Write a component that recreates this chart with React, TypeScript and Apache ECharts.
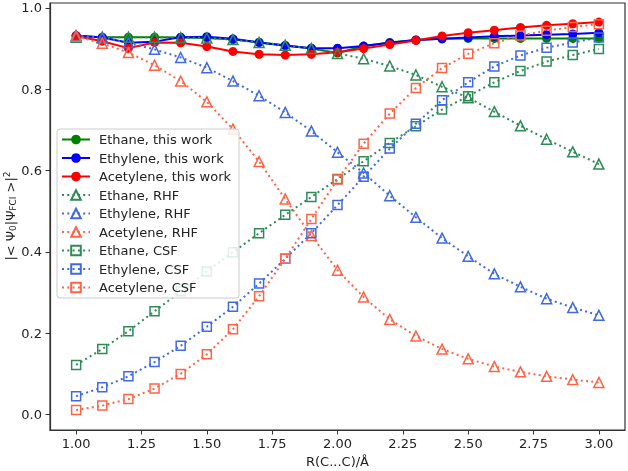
import React, { useEffect, useRef } from "react";
import * as echarts from "echarts";

const R = [1.0, 1.1, 1.2, 1.3, 1.4, 1.5, 1.6, 1.7, 1.8, 1.9, 2.0, 2.1, 2.2, 2.3, 2.4, 2.5, 2.6, 2.7, 2.8, 2.9, 3.0];

const ethaneThis = [0.931, 0.928, 0.928, 0.928, 0.927, 0.926, 0.922, 0.915, 0.908, 0.9, 0.889, 0.906, 0.915, 0.921, 0.924, 0.925, 0.925, 0.925, 0.925, 0.925, 0.925];
const ethyleneThis = [0.932, 0.927, 0.914, 0.917, 0.928, 0.929, 0.924, 0.915, 0.907, 0.901, 0.901, 0.906, 0.914, 0.921, 0.924, 0.927, 0.93, 0.932, 0.934, 0.936, 0.939];
const acetyleneThis = [0.931, 0.918, 0.901, 0.915, 0.914, 0.905, 0.893, 0.886, 0.884, 0.886, 0.891, 0.9, 0.91, 0.92, 0.931, 0.939, 0.945, 0.952, 0.957, 0.961, 0.965];

const ethaneRHF = [0.928, 0.928, 0.928, 0.928, 0.927, 0.926, 0.922, 0.915, 0.908, 0.9, 0.888, 0.875, 0.857, 0.835, 0.806, 0.779, 0.745, 0.71, 0.677, 0.646, 0.616];
const ethyleneRHF = [0.932, 0.926, 0.914, 0.898, 0.878, 0.853, 0.82, 0.784, 0.743, 0.697, 0.645, 0.594, 0.538, 0.485, 0.434, 0.389, 0.346, 0.314, 0.285, 0.263, 0.244];
const acetyleneRHF = [0.93, 0.913, 0.89, 0.859, 0.82, 0.769, 0.702, 0.622, 0.53, 0.44, 0.355, 0.289, 0.234, 0.193, 0.161, 0.137, 0.118, 0.105, 0.094, 0.086, 0.079];

const ethaneCSF = [0.122, 0.161, 0.205, 0.254, 0.303, 0.352, 0.399, 0.446, 0.491, 0.535, 0.579, 0.623, 0.668, 0.709, 0.75, 0.783, 0.817, 0.845, 0.868, 0.884, 0.899];
const ethyleneCSF = [0.045, 0.067, 0.094, 0.129, 0.169, 0.216, 0.265, 0.322, 0.383, 0.446, 0.515, 0.585, 0.654, 0.715, 0.773, 0.817, 0.856, 0.883, 0.902, 0.915, 0.927];
const acetyleneCSF = [0.011, 0.022, 0.038, 0.064, 0.1, 0.148, 0.21, 0.291, 0.383, 0.481, 0.578, 0.666, 0.74, 0.803, 0.852, 0.887, 0.913, 0.932, 0.944, 0.953, 0.96];

const xTicks = [1.0, 1.25, 1.5, 1.75, 2.0, 2.25, 2.5, 2.75, 3.0];
const yTicks = [0.0, 0.2, 0.4, 0.6, 0.8, 1.0];

const FONT = "DejaVu Sans";

const pairs = (ys: number[]) => R.map((x, i) => [x, ys[i]]);

const solid = (name: string, ys: number[], color: string) => ({
  name,
  type: "line",
  data: pairs(ys),
  symbol: "circle",
  symbolSize: 9,
  lineStyle: { color, width: 2 },
  itemStyle: { color, borderWidth: 0 },
  emphasis: { disabled: true },
});

const dotted = (name: string, ys: number[], color: string, symbol: string, size: number) => ({
  name,
  type: "line",
  data: pairs(ys),
  symbol,
  symbolSize: size,
  lineStyle: { color, width: 2, type: [2, 3.3] },
  itemStyle: { color: "rgba(255,255,255,0)", borderColor: color, borderWidth: 1.5 },
  emphasis: { disabled: true },
});

const GREEN = "#008000";
const BLUE = "#0000ff";
const RED = "#ff0000";
const SGREEN = "#2e8b57";
const RBLUE = "#4169e1";
const TOMATO = "#ff6347";

export default function App() {
  const ref = useRef<HTMLDivElement>(null);
  useEffect(() => {
    if (!ref.current) return;
    const chart = echarts.init(ref.current, undefined, { renderer: "svg" });
    const series = [
      solid("Ethane, this work", ethaneThis, GREEN),
      solid("Ethylene, this work", ethyleneThis, BLUE),
      solid("Acetylene, this work", acetyleneThis, RED),
      dotted("Ethane, RHF", ethaneRHF, SGREEN, "triangle", 10),
      dotted("Ethylene, RHF", ethyleneRHF, RBLUE, "triangle", 10),
      dotted("Acetylene, RHF", acetyleneRHF, TOMATO, "triangle", 10),
      dotted("Ethane, CSF", ethaneCSF, SGREEN, "rect", 9),
      dotted("Ethylene, CSF", ethyleneCSF, RBLUE, "rect", 9),
      dotted("Acetylene, CSF", acetyleneCSF, TOMATO, "rect", 9),
    ];
    const axisCommon = {
      axisLine: { show: true, onZero: false, lineStyle: { color: "#333", width: 1.2 } },
      splitLine: { show: false },
    };
    chart.setOption({
      animation: false,
      textStyle: { fontFamily: FONT },
      grid: {
        left: 50,
        right: 3,
        top: 3,
        bottom: 41,
        show: true,
        borderColor: "#333",
        borderWidth: 1.2,
        containLabel: false,
        outerBoundsMode: "none",
      },
      graphic: [
        {
          type: "text",
          x: 10,
          y: 216,
          rotation: Math.PI / 2,
          style: {
            text: "|< Ψ{sub|0}|Ψ{sub|FCI} >|{sup|2}",
            fontSize: 13,
            fontFamily: FONT,
            fill: "#222",
            align: "center",
            verticalAlign: "middle",
            rich: {
              sub: { fontSize: 9, fontFamily: FONT, fill: "#222", padding: [6, 0, 0, 0] },
              sup: { fontSize: 9, fontFamily: FONT, fill: "#222", padding: [0, 0, 6, 0] },
            },
          },
        },
      ],
      legend: {
        orient: "vertical",
        left: 57,
        top: 129,
        itemWidth: 28,
        itemHeight: 12,
        itemGap: 5.5,
        padding: [4, 8, 4, 4],
        backgroundColor: "rgba(255,255,255,0.85)",
        borderColor: "#cccccc",
        borderWidth: 1,
        borderRadius: 3,
        textStyle: { fontSize: 13, lineHeight: 12.8, fontFamily: FONT, color: "#222", padding: [0, 0, 0, 4] },
        data: series.map((s) => s.name),
      },
      xAxis: {
        type: "value",
        min: 0.9,
        max: 3.1,
        ...axisCommon,
        name: "R(C...C)/Å",
        nameLocation: "middle",
        nameGap: 25,
        nameTextStyle: { fontSize: 13, fontFamily: FONT, color: "#222" },
        axisTick: { show: true, length: 4.5, customValues: xTicks, lineStyle: { color: "#333" } },
        axisLabel: {
          customValues: xTicks,
          formatter: (v: number) => v.toFixed(2),
          fontSize: 13,
          fontFamily: FONT,
          color: "#222",
          margin: 7,
        },
      },
      yAxis: {
        type: "value",
        min: -0.038,
        max: 1.012,
        ...axisCommon,
        axisTick: { show: true, length: 4.5, customValues: yTicks, lineStyle: { color: "#333" } },
        axisLabel: {
          customValues: yTicks,
          formatter: (v: number) => v.toFixed(1),
          fontSize: 13,
          fontFamily: FONT,
          color: "#222",
          margin: 8,
        },
      },
      series,
    });
    return () => chart.dispose();
  }, []);
  return <div ref={ref} style={{ position: "fixed", left: 0, top: 0, width: 628, height: 471 }} />;
}
